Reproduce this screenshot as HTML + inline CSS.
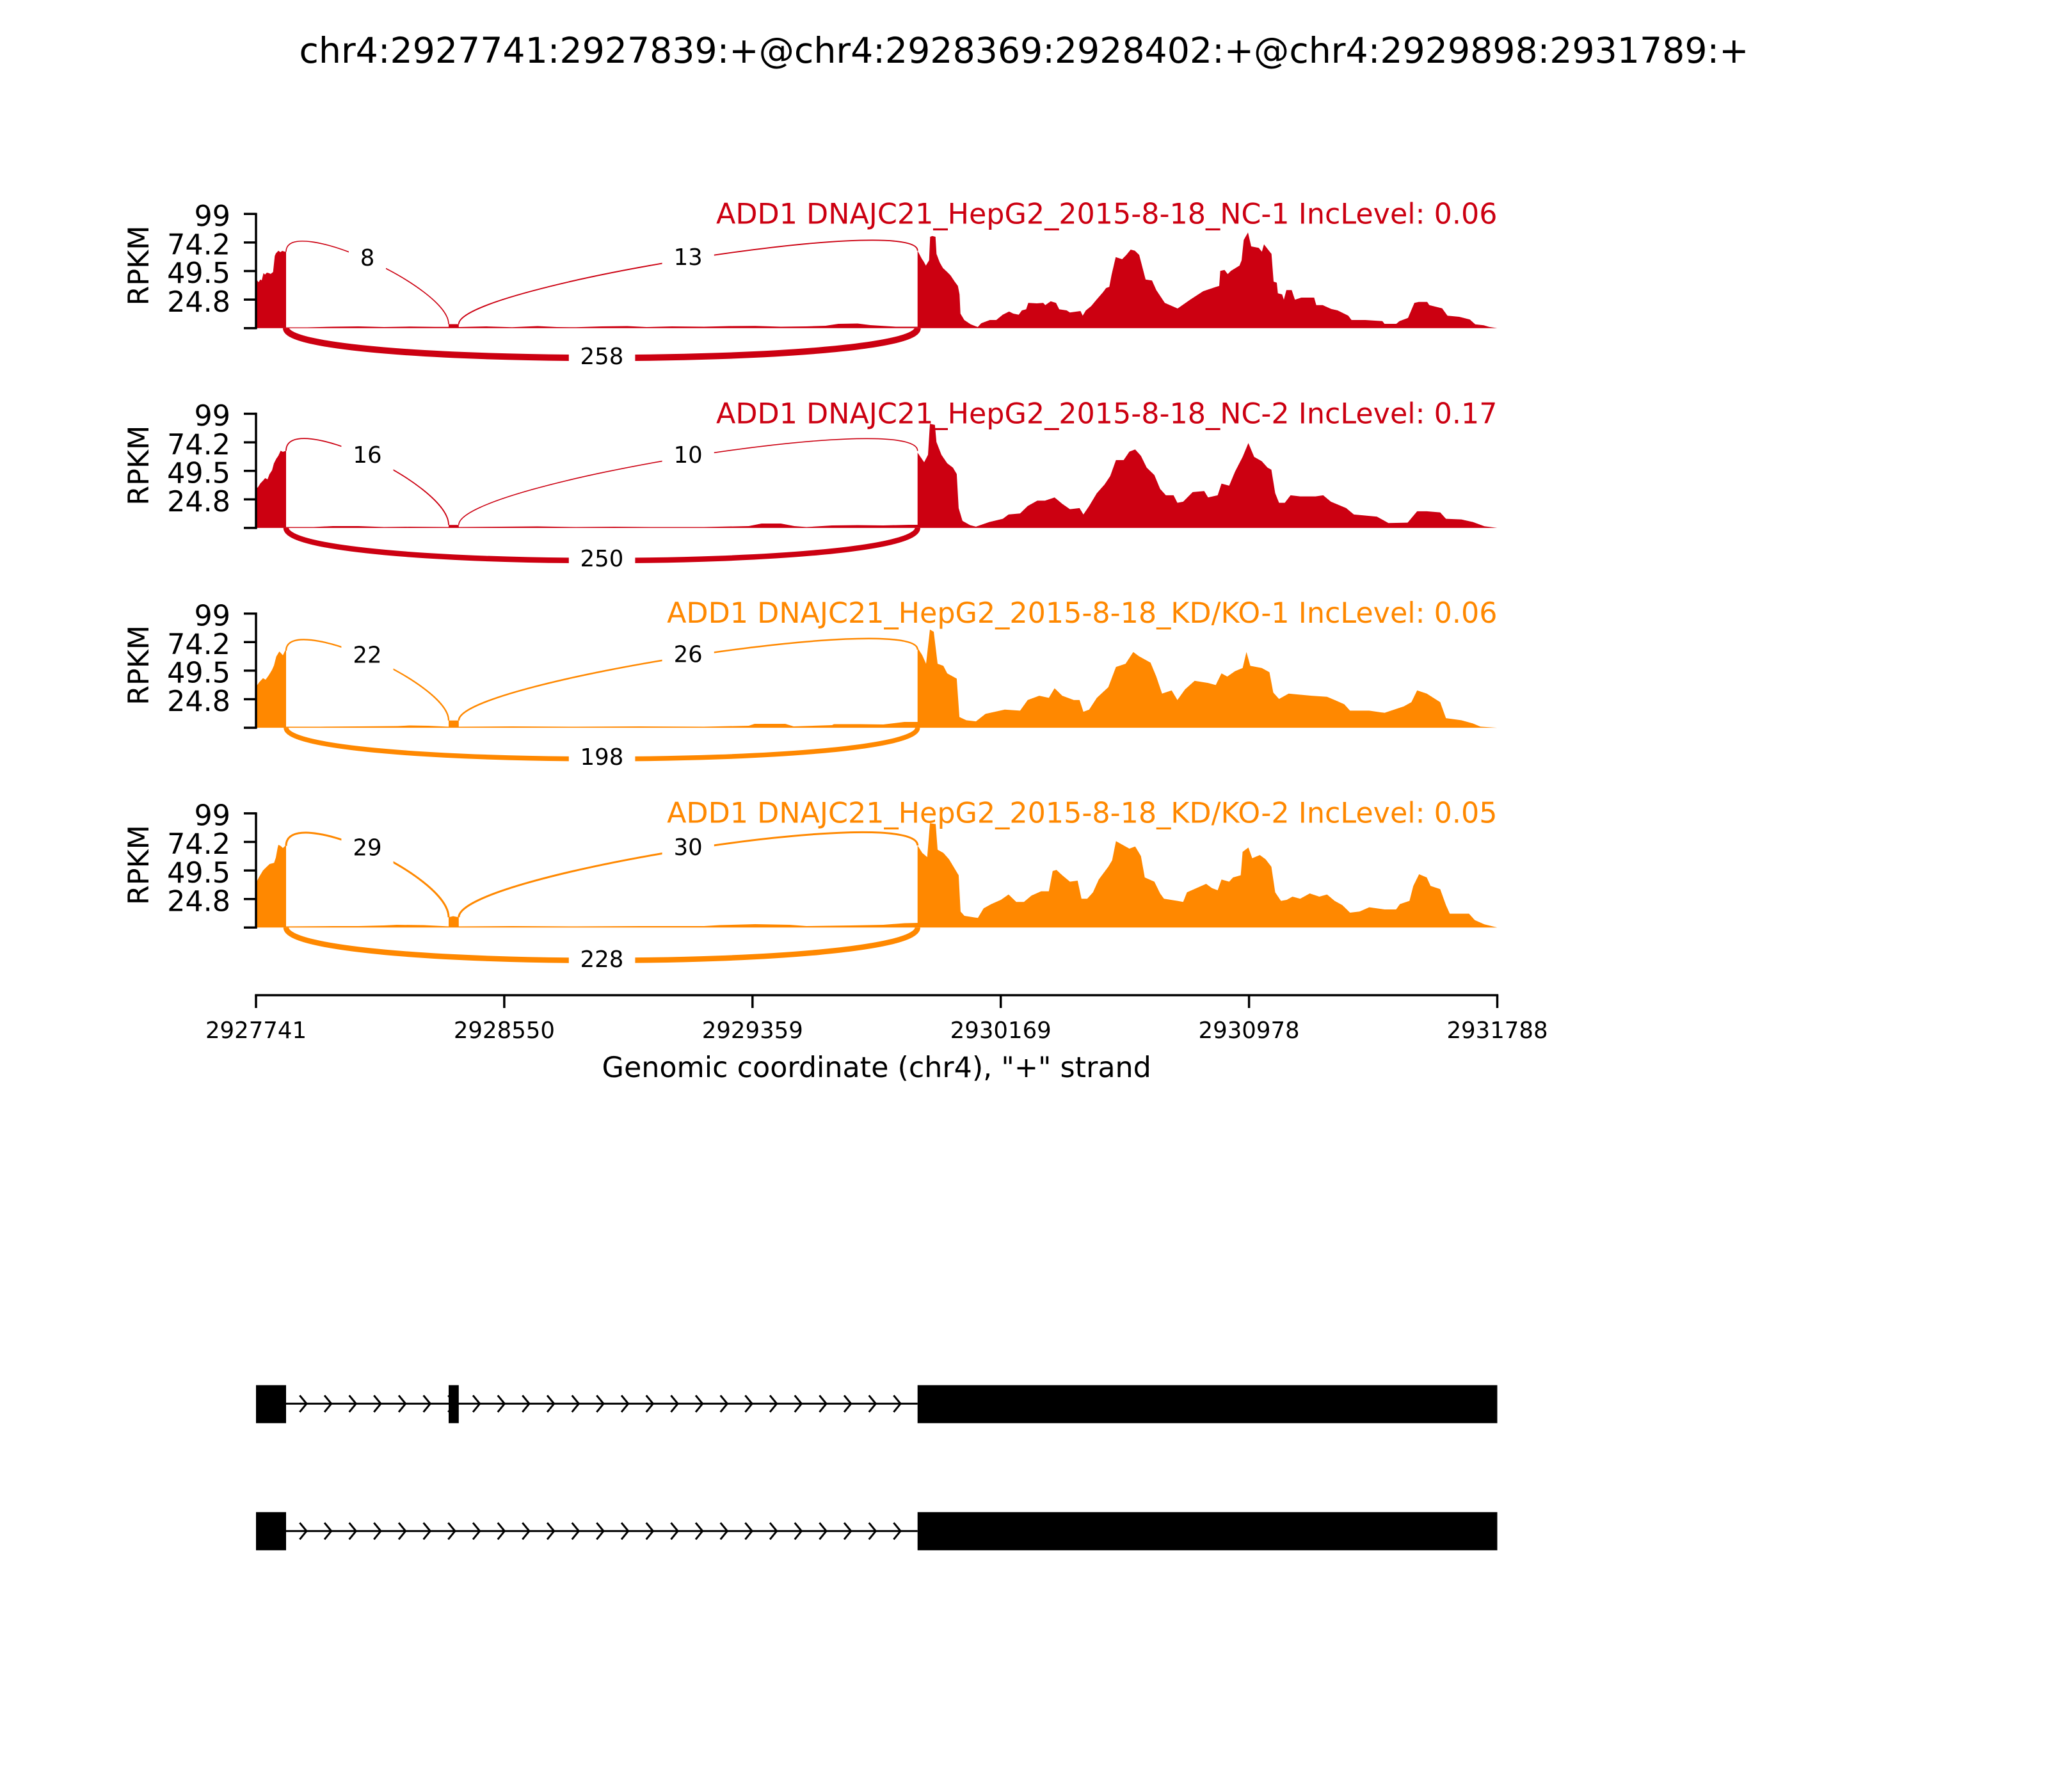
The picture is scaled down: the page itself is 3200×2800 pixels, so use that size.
<!DOCTYPE html>
<html>
<head>
<meta charset="utf-8">
<style>
  html, body { margin: 0; padding: 0; background: #ffffff; }
  svg { display: block; }
  text { font-family: "DejaVu Sans", "Liberation Sans", sans-serif; }
</style>
</head>
<body>
<svg xmlns="http://www.w3.org/2000/svg" width="3200" height="2800" viewBox="0 0 3200 2800">
  <rect x="0" y="0" width="3200" height="2800" fill="#ffffff"/>

  <!-- Title -->
  <text x="1600" y="98" font-size="55.3" text-anchor="middle" fill="#000">chr4:2927741:2927839:+@chr4:2928369:2928402:+@chr4:2929898:2931789:+</text>

  <!-- ================= PANEL 1 ================= -->
  <path fill="#CC0011" d="M400,512.7 L400,440 L402,438.3 L404,441 L406.7,436.7 L409,438 L411.7,426.7 L414,429 L417,426 L420,426.7 L423,428 L426.7,425 L429.3,400 L431,396 L435,391.7 L438,394 L441,392 L445,393.3 L447,393.3 L447,511.5 L480,511.5 L520,510.5 L560,510 L600,511 L640,510.3 L680,510.8 L701,510.8 L701,506.5 L716.8,506.5 L716.8,511 L760,510 L800,511.3 L840,509.5 L870,511 L900,511.3 L940,510 L980,509.5 L1010,511 L1050,510 L1100,510.5 L1140,509.5 L1180,509.3 L1220,510.5 L1260,510 L1290,509 L1310,506 L1340,505.5 L1360,508 L1400,510.5 L1433.7,510.5 L1433.7,391.7 L1440,403.7 L1443.3,408.7 L1446.7,415 L1451.7,406.7 L1453.3,370 L1456.7,368.7 L1461.7,370 L1463.3,396.7 L1468.3,410 L1473.3,418.7 L1480,425 L1485,430 L1491.7,440 L1496.7,446.7 L1499.3,460 L1500.7,490 L1506.7,500 L1516.7,506.7 L1527.7,511 L1533.3,505 L1546.7,500 L1556.7,500 L1566.7,491.7 L1576.7,486.7 L1583.3,490 L1591.7,491.7 L1596.7,485 L1603.3,483.3 L1606.7,473.3 L1620,474 L1630,473.3 L1633.3,476.7 L1641.7,470.7 L1650,473.3 L1655,483.3 L1666.7,485 L1671.7,488.3 L1688.3,486 L1691.7,493.3 L1696.7,485 L1705,478.3 L1713.3,468.3 L1723.3,456.7 L1728.3,450 L1733.3,448.3 L1736.7,430 L1743.3,401.7 L1753.3,405 L1760,398.3 L1766.7,390 L1773.3,391.7 L1780,398.3 L1790,436.7 L1800,438.3 L1806.7,453.3 L1820,473.3 L1840,482 L1860,468 L1880,455 L1900,448.3 L1905,446.7 L1906.7,423.3 L1913.3,421.7 L1918.3,428.3 L1923.3,423.3 L1936.7,415 L1940,406.7 L1943.3,375 L1950,363.3 L1955,385 L1966.7,387.3 L1971.7,393.3 L1975,381.7 L1980,388.3 L1986.7,396.7 L1990,440 L1995,441.7 L1996.7,458.3 L2003.3,460 L2006,468.3 L2010,453.3 L2018.3,453.3 L2023.3,468.3 L2033.3,465 L2053.3,465 L2056.7,476.7 L2066.7,476.7 L2080,482.7 L2090,485 L2106.7,493.3 L2111.7,500 L2133.3,500 L2160,501.7 L2163.3,506 L2181.7,506 L2186.7,501.7 L2200,496.7 L2210,473.3 L2216.7,471.7 L2230,471.7 L2233.3,476.7 L2253.3,481.7 L2261.7,493.3 L2280,495 L2296.7,499.3 L2305,506.7 L2318.3,508.3 L2326.7,510.7 L2339.5,512.7 Z"/>
  <g fill="none" stroke="#CC0011">
    <path stroke-width="1.6" d="M447,393.3 C447,334.3 701,447.5 701,506.5"/>
    <path stroke-width="1.9" d="M716.8,506.5 C716.8,447.5 1433.7,332.7 1433.7,391.7"/>
    <path stroke-width="10" d="M447,512.7 C447,574.7 1433.7,574.7 1433.7,512.7"/>
  </g>
  <g fill="#ffffff">
    <rect x="545" y="367.2" width="58" height="77"/>
    <rect x="1034.6" y="366.4" width="81.2" height="77"/>
    <rect x="888.8" y="521.2" width="103.6" height="77"/>
  </g>
  <g font-size="35.5" text-anchor="middle" fill="#000">
    <text x="574" y="415">8</text>
    <text x="1075.2" y="414.2">13</text>
    <text x="940.4" y="569">258</text>
  </g>
  <text x="2339.5" y="349.3" font-size="44.4" text-anchor="end" fill="#CC0011">ADD1 DNAJC21_HepG2_2015-8-18_NC-1 IncLevel: 0.06</text>
  <g stroke="#000" stroke-width="3.5">
    <line x1="400" y1="332.6" x2="400" y2="514.4"/>
    <line x1="381" y1="512.7" x2="400" y2="512.7"/>
    <line x1="381" y1="468.1" x2="400" y2="468.1"/>
    <line x1="381" y1="423.5" x2="400" y2="423.5"/>
    <line x1="381" y1="378.9" x2="400" y2="378.9"/>
    <line x1="381" y1="334.3" x2="400" y2="334.3"/>
  </g>
  <g font-size="44.4" text-anchor="end" fill="#000">
    <text x="360" y="486.8">24.8</text>
    <text x="360" y="442.2">49.5</text>
    <text x="360" y="397.6">74.2</text>
    <text x="360" y="353">99</text>
  </g>
  <text transform="translate(232,415) rotate(-90)" font-size="44.4" text-anchor="middle" fill="#000">RPKM</text>

  <!-- ================= PANEL 2 ================= -->
  <path fill="#CC0011" d="M400,824.9 L400,763 L403,761.4 L407,755 L410,752 L414.4,747 L418,749 L421,741 L425,735 L428,724 L431.7,716.8 L435,712 L438.5,704.3 L442,706 L447,704.3 L447,823.5 L490,823.5 L520,822 L560,822 L600,823.5 L640,823 L701,823.5 L701,820.3 L716.8,820.3 L716.8,823.5 L780,823 L840,822.5 L900,823.5 L960,823 L1020,823.5 L1100,823.5 L1170,822 L1190,818 L1220,818 L1241,822 L1260,823.5 L1300,821 L1340,820.5 L1380,821 L1420,820 L1433.7,820 L1433.7,707.2 L1444,722.2 L1450,710.6 L1453,662.2 L1460.8,663.9 L1463.2,690.6 L1471,710.6 L1480,723.9 L1488.9,730.6 L1494.9,740.6 L1497.9,793.9 L1503.9,813.9 L1515.9,820.6 L1524.9,822.9 L1545.9,815.6 L1566.9,810.6 L1575.9,803.9 L1593.9,802.2 L1605.8,790.6 L1620.8,782.2 L1632.8,782.2 L1647.8,777.2 L1659.8,787.2 L1671.8,795.6 L1686.8,793.9 L1692.8,803.9 L1701.8,790.6 L1713.8,770.6 L1725.7,757.2 L1734.7,743.9 L1743.7,718.9 L1755.7,718.9 L1764.7,705.6 L1773.7,702.2 L1782.7,712.2 L1791.7,730.6 L1803.7,742.2 L1812.7,763.9 L1821.7,773.9 L1833.7,773.9 L1839.7,785.6 L1848.7,783.9 L1863.6,768.9 L1881.6,767.2 L1887.6,777.2 L1902.6,773.9 L1908.6,755.6 L1920.6,758.9 L1929.6,737.2 L1941.6,713.9 L1950.6,692.2 L1959.6,713.9 L1971.5,720.6 L1980.5,730.6 L1986.5,733.9 L1992.5,770.6 L1998.5,785.6 L2007.5,785.6 L2016.5,773.9 L2031.5,775.6 L2055.5,775.6 L2067.5,773.9 L2079.5,783.9 L2103.4,793.9 L2115.4,803.9 L2151.4,807.2 L2169.4,817.2 L2199.4,816.6 L2214.3,798.9 L2229.3,798.9 L2250.3,800.6 L2259.3,810.6 L2283.3,811.6 L2301.3,815.6 L2319.3,822.2 L2339.5,824.9 Z"/>
  <g fill="none" stroke="#CC0011">
    <path stroke-width="1.8" d="M447,704.3 C447,639.3 701,755.3 701,820.3"/>
    <path stroke-width="1.6" d="M716.8,820.3 C716.8,755.3 1433.7,639.5 1433.7,704.5"/>
    <path stroke-width="8.5" d="M447,824.9 C447,892.9 1433.7,892.9 1433.7,824.9"/>
  </g>
  <g fill="#ffffff">
    <rect x="533.4" y="675" width="81.2" height="77"/>
    <rect x="1034.6" y="675.2" width="81.2" height="77"/>
    <rect x="888.8" y="837.4" width="103.6" height="77"/>
  </g>
  <g font-size="35.5" text-anchor="middle" fill="#000">
    <text x="574" y="722.9">16</text>
    <text x="1075.2" y="723">10</text>
    <text x="940.4" y="885.2">250</text>
  </g>
  <text x="2339.5" y="661.5" font-size="44.4" text-anchor="end" fill="#CC0011">ADD1 DNAJC21_HepG2_2015-8-18_NC-2 IncLevel: 0.17</text>
  <g stroke="#000" stroke-width="3.5">
    <line x1="400" y1="644.8" x2="400" y2="826.6"/>
    <line x1="381" y1="824.9" x2="400" y2="824.9"/>
    <line x1="381" y1="780.3" x2="400" y2="780.3"/>
    <line x1="381" y1="735.7" x2="400" y2="735.7"/>
    <line x1="381" y1="691.1" x2="400" y2="691.1"/>
    <line x1="381" y1="646.5" x2="400" y2="646.5"/>
  </g>
  <g font-size="44.4" text-anchor="end" fill="#000">
    <text x="360" y="799">24.8</text>
    <text x="360" y="754.4">49.5</text>
    <text x="360" y="709.8">74.2</text>
    <text x="360" y="665.2">99</text>
  </g>
  <text transform="translate(232,727.2) rotate(-90)" font-size="44.4" text-anchor="middle" fill="#000">RPKM</text>

  <!-- ================= PANEL 3 ================= -->
  <path fill="#FF8800" d="M400,1137.1 L400,1074 L400.7,1072.1 L405,1066 L411,1059.6 L415,1062 L420,1055 L424.8,1047.1 L428,1040 L431.7,1025.7 L436.5,1017.9 L442,1023.9 L445.4,1016.8 L447,1016.8 L447,1135.5 L500,1135.5 L560,1135 L621,1134.5 L640,1133.5 L669,1134 L701,1135.5 L701,1125.7 L716.8,1125.7 L716.8,1135.5 L800,1135 L900,1135.5 L1000,1135 L1100,1135.5 L1170,1134 L1179,1131 L1227,1131 L1240,1135 L1300,1133 L1303,1131.5 L1344,1131.5 L1380,1132 L1413,1128 L1433.7,1128 L1433.7,1012.1 L1441,1023.8 L1447,1037.1 L1453,983.8 L1459,987.1 L1465,1037.1 L1474,1040.4 L1480,1052.1 L1494.9,1060.4 L1499.1,1120.4 L1509.9,1125.4 L1524.9,1127.1 L1539.9,1115.4 L1569.9,1108.8 L1593.9,1110.4 L1605.8,1093.8 L1623.8,1087.1 L1638.8,1090.4 L1647.8,1075.4 L1659.8,1087.1 L1677.8,1093.8 L1686.8,1093.8 L1692.8,1112.1 L1701.8,1108.8 L1713.8,1090.4 L1731.7,1073.8 L1743.7,1042.1 L1758.7,1037.1 L1770.7,1018.8 L1779.7,1025.4 L1797.7,1035.4 L1806.7,1057.1 L1815.7,1083.8 L1830.7,1078.8 L1839.7,1093.8 L1851.6,1077.1 L1866.6,1063.8 L1887.6,1067.1 L1899.6,1070.4 L1908.6,1052.1 L1917.6,1057.1 L1929.6,1048.8 L1941.6,1043.8 L1947.6,1018.8 L1953.6,1040.4 L1971.5,1043.8 L1983.5,1050.4 L1989.5,1082.1 L1998.5,1092.1 L2013.5,1083.8 L2049.5,1087.1 L2073.5,1088.8 L2085.4,1093.8 L2100.4,1100.4 L2109.4,1110.4 L2139.4,1110.4 L2163.4,1113.8 L2193.4,1103.8 L2205.3,1097.1 L2214.3,1078.8 L2229.3,1083.8 L2250.3,1097.1 L2259.3,1122.1 L2283.3,1125.4 L2301.3,1130.4 L2313.3,1135.4 L2339.5,1137.1 Z"/>
  <g fill="none" stroke="#FF8800">
    <path stroke-width="2.3" d="M447,1016.8 C447,956.8 701,1065.7 701,1125.7"/>
    <path stroke-width="2.5" d="M716.8,1125.7 C716.8,1065.7 1433.7,955 1433.7,1015"/>
    <path stroke-width="7.5" d="M447,1137.1 C447,1202.1 1433.7,1202.1 1433.7,1137.1"/>
  </g>
  <g fill="#ffffff">
    <rect x="533.4" y="987.8" width="81.2" height="77"/>
    <rect x="1034.6" y="986.9" width="81.2" height="77"/>
    <rect x="888.8" y="1147.4" width="103.6" height="77"/>
  </g>
  <g font-size="35.5" text-anchor="middle" fill="#000">
    <text x="574" y="1035.6">22</text>
    <text x="1075.2" y="1034.7">26</text>
    <text x="940.4" y="1195.2">198</text>
  </g>
  <text x="2339.5" y="973" font-size="44.4" text-anchor="end" fill="#FF8800">ADD1 DNAJC21_HepG2_2015-8-18_KD/KO-1 IncLevel: 0.06</text>
  <g stroke="#000" stroke-width="3.5">
    <line x1="400" y1="957" x2="400" y2="1138.8"/>
    <line x1="381" y1="1137.1" x2="400" y2="1137.1"/>
    <line x1="381" y1="1092.5" x2="400" y2="1092.5"/>
    <line x1="381" y1="1047.9" x2="400" y2="1047.9"/>
    <line x1="381" y1="1003.3" x2="400" y2="1003.3"/>
    <line x1="381" y1="958.7" x2="400" y2="958.7"/>
  </g>
  <g font-size="44.4" text-anchor="end" fill="#000">
    <text x="360" y="1111.2">24.8</text>
    <text x="360" y="1066.6">49.5</text>
    <text x="360" y="1022">74.2</text>
    <text x="360" y="977.4">99</text>
  </g>
  <text transform="translate(232,1039.4) rotate(-90)" font-size="44.4" text-anchor="middle" fill="#000">RPKM</text>

  <!-- ================= PANEL 4 ================= -->
  <path fill="#FF8800" d="M400,1449.3 L400,1380 L400.7,1378.3 L405,1370 L411,1360 L416,1355 L421.3,1350 L428.2,1348.3 L431,1340 L433.7,1325 L435,1320 L438.5,1321.7 L442,1325 L445.4,1321.7 L447,1321.7 L447,1447.5 L520,1447 L560,1447 L600,1446 L620,1445 L662,1445.5 L701,1447.5 L701,1433.3 L708,1431.5 L716.8,1433.3 L716.8,1447.5 L800,1447 L900,1447.5 L1000,1447 L1100,1447 L1124,1445.5 L1180,1444 L1234,1445 L1260,1447 L1330,1446 L1380,1445 L1413,1442.5 L1433.7,1442 L1433.7,1321 L1441,1332.6 L1448.8,1339.3 L1453,1286.3 L1462,1287.6 L1465,1327.6 L1474,1332.6 L1482.9,1342.6 L1491.9,1357.6 L1497.9,1367.6 L1500.9,1424.3 L1506.9,1431 L1527.9,1434.3 L1536.9,1419.3 L1548.9,1412.6 L1563.9,1406 L1575.9,1397.6 L1587.9,1409.3 L1599.9,1409.3 L1611.8,1399.3 L1626.8,1392.6 L1638.8,1392.6 L1644.8,1361 L1650.8,1359.3 L1659.8,1367.6 L1671.8,1377.6 L1683.8,1376 L1689.8,1404.3 L1698.8,1404.3 L1707.8,1394.3 L1716.8,1374.3 L1731.7,1354.3 L1737.7,1344.3 L1743.7,1314.3 L1755.7,1321 L1764.7,1326 L1773.7,1322.6 L1782.7,1337.6 L1788.7,1371 L1803.7,1377.6 L1812.7,1396 L1818.7,1404.3 L1839.7,1407.6 L1848.7,1409.3 L1854.6,1394.3 L1869.6,1387.6 L1884.6,1381 L1893.6,1387.6 L1902.6,1391 L1908.6,1374.3 L1920.6,1377.6 L1926.6,1371 L1938.6,1367.6 L1941.6,1331 L1950.6,1324.3 L1956.6,1341 L1968.5,1336 L1977.5,1342.6 L1986.5,1354.3 L1992.5,1394.3 L2001.5,1407.6 L2010.5,1406 L2019.5,1401 L2031.5,1404.3 L2046.5,1396 L2061.5,1401 L2073.5,1397.6 L2085.4,1407.6 L2097.4,1414.3 L2109.4,1426 L2124.4,1424.3 L2139.4,1417.6 L2163.4,1421 L2181.4,1421 L2187.4,1412.6 L2202.3,1407.6 L2208.3,1384.3 L2217.3,1366 L2229.3,1371 L2235.3,1384.3 L2250.3,1389.3 L2259.3,1414.3 L2265.3,1427.6 L2295.3,1427.6 L2304.3,1437.6 L2319.3,1444.3 L2339.5,1449.3 Z"/>
  <g fill="none" stroke="#FF8800">
    <path stroke-width="3" d="M447,1321.7 C447,1254.7 701,1366.3 701,1433.3"/>
    <path stroke-width="3" d="M716.8,1433.3 C716.8,1366.3 1433.7,1254 1433.7,1321"/>
    <path stroke-width="8.5" d="M447,1449.3 C447,1517.8 1433.7,1517.8 1433.7,1449.3"/>
  </g>
  <g fill="#ffffff">
    <rect x="533.4" y="1288.8" width="81.2" height="77"/>
    <rect x="1034.6" y="1288.4" width="81.2" height="77"/>
    <rect x="888.8" y="1463.2" width="103.6" height="77"/>
  </g>
  <g font-size="35.5" text-anchor="middle" fill="#000">
    <text x="574" y="1336.6">29</text>
    <text x="1075.2" y="1336.2">30</text>
    <text x="940.4" y="1511">228</text>
  </g>
  <text x="2339.5" y="1285.5" font-size="44.4" text-anchor="end" fill="#FF8800">ADD1 DNAJC21_HepG2_2015-8-18_KD/KO-2 IncLevel: 0.05</text>
  <g stroke="#000" stroke-width="3.5">
    <line x1="400" y1="1269.2" x2="400" y2="1451"/>
    <line x1="381" y1="1449.3" x2="400" y2="1449.3"/>
    <line x1="381" y1="1404.7" x2="400" y2="1404.7"/>
    <line x1="381" y1="1360.1" x2="400" y2="1360.1"/>
    <line x1="381" y1="1315.5" x2="400" y2="1315.5"/>
    <line x1="381" y1="1270.9" x2="400" y2="1270.9"/>
  </g>
  <g font-size="44.4" text-anchor="end" fill="#000">
    <text x="360" y="1423.4">24.8</text>
    <text x="360" y="1378.8">49.5</text>
    <text x="360" y="1334.2">74.2</text>
    <text x="360" y="1289.6">99</text>
  </g>
  <text transform="translate(232,1351.6) rotate(-90)" font-size="44.4" text-anchor="middle" fill="#000">RPKM</text>

  <!-- ================= X AXIS ================= -->
  <g stroke="#000" stroke-width="3.5">
    <line x1="398.3" y1="1555" x2="2341.2" y2="1555"/>
    <line x1="400" y1="1555" x2="400" y2="1575"/>
    <line x1="787.9" y1="1555" x2="787.9" y2="1575"/>
    <line x1="1175.8" y1="1555" x2="1175.8" y2="1575"/>
    <line x1="1563.7" y1="1555" x2="1563.7" y2="1575"/>
    <line x1="1951.6" y1="1555" x2="1951.6" y2="1575"/>
    <line x1="2339.5" y1="1555" x2="2339.5" y2="1575"/>
  </g>
  <g font-size="35.5" text-anchor="middle" fill="#000">
    <text x="400" y="1622">2927741</text>
    <text x="787.9" y="1622">2928550</text>
    <text x="1175.8" y="1622">2929359</text>
    <text x="1563.7" y="1622">2930169</text>
    <text x="1951.6" y="1622">2930978</text>
    <text x="2339.5" y="1622">2931788</text>
  </g>
  <text x="1369.7" y="1683" font-size="44.4" text-anchor="middle" fill="#000">Genomic coordinate (chr4), "+" strand</text>

  <!-- ================= GENE MODELS ================= -->
  <g stroke="#000" stroke-width="3" fill="none">
    <line x1="447" y1="2193.3" x2="1433.7" y2="2193.3"/>
    <path d="M468.3,2180.3L479,2193.3L468.3,2206.3 M507,2180.3L517.7,2193.3L507,2206.3 M545.6,2180.3L556.3,2193.3L545.6,2206.3 M584.3,2180.3L595,2193.3L584.3,2206.3 M623,2180.3L633.7,2193.3L623,2206.3 M661.6,2180.3L672.3,2193.3L661.6,2206.3 M700.3,2180.3L711,2193.3L700.3,2206.3 M739,2180.3L749.7,2193.3L739,2206.3 M777.7,2180.3L788.4,2193.3L777.7,2206.3 M816.3,2180.3L827,2193.3L816.3,2206.3 M855,2180.3L865.7,2193.3L855,2206.3 M893.7,2180.3L904.4,2193.3L893.7,2206.3 M932.3,2180.3L943,2193.3L932.3,2206.3 M971,2180.3L981.7,2193.3L971,2206.3 M1009.7,2180.3L1020.4,2193.3L1009.7,2206.3 M1048.4,2180.3L1059.1,2193.3L1048.4,2206.3 M1087,2180.3L1097.7,2193.3L1087,2206.3 M1125.7,2180.3L1136.4,2193.3L1125.7,2206.3 M1164.4,2180.3L1175.1,2193.3L1164.4,2206.3 M1203,2180.3L1213.7,2193.3L1203,2206.3 M1241.7,2180.3L1252.4,2193.3L1241.7,2206.3 M1280.4,2180.3L1291.1,2193.3L1280.4,2206.3 M1319,2180.3L1329.7,2193.3L1319,2206.3 M1357.7,2180.3L1368.4,2193.3L1357.7,2206.3 M1396.4,2180.3L1407.1,2193.3L1396.4,2206.3"/>
    <line x1="447" y1="2392.3" x2="1433.7" y2="2392.3"/>
    <path d="M468.3,2379.3L479,2392.3L468.3,2405.3 M507,2379.3L517.7,2392.3L507,2405.3 M545.6,2379.3L556.3,2392.3L545.6,2405.3 M584.3,2379.3L595,2392.3L584.3,2405.3 M623,2379.3L633.7,2392.3L623,2405.3 M661.6,2379.3L672.3,2392.3L661.6,2405.3 M700.3,2379.3L711,2392.3L700.3,2405.3 M739,2379.3L749.7,2392.3L739,2405.3 M777.7,2379.3L788.4,2392.3L777.7,2405.3 M816.3,2379.3L827,2392.3L816.3,2405.3 M855,2379.3L865.7,2392.3L855,2405.3 M893.7,2379.3L904.4,2392.3L893.7,2405.3 M932.3,2379.3L943,2392.3L932.3,2405.3 M971,2379.3L981.7,2392.3L971,2405.3 M1009.7,2379.3L1020.4,2392.3L1009.7,2405.3 M1048.4,2379.3L1059.1,2392.3L1048.4,2405.3 M1087,2379.3L1097.7,2392.3L1087,2405.3 M1125.7,2379.3L1136.4,2392.3L1125.7,2405.3 M1164.4,2379.3L1175.1,2392.3L1164.4,2405.3 M1203,2379.3L1213.7,2392.3L1203,2405.3 M1241.7,2379.3L1252.4,2392.3L1241.7,2405.3 M1280.4,2379.3L1291.1,2392.3L1280.4,2405.3 M1319,2379.3L1329.7,2392.3L1319,2405.3 M1357.7,2379.3L1368.4,2392.3L1357.7,2405.3 M1396.4,2379.3L1407.1,2392.3L1396.4,2405.3"/>
  </g>
  <g fill="#000">
    <rect x="400" y="2164.3" width="47" height="59.4"/>
    <rect x="701" y="2164.3" width="15.8" height="59.4"/>
    <rect x="1433.7" y="2164.3" width="905.8" height="59.4"/>
    <rect x="400" y="2362.7" width="47" height="59.6"/>
    <rect x="1433.7" y="2362.7" width="905.8" height="59.6"/>
  </g>
</svg>
</body>
</html>
